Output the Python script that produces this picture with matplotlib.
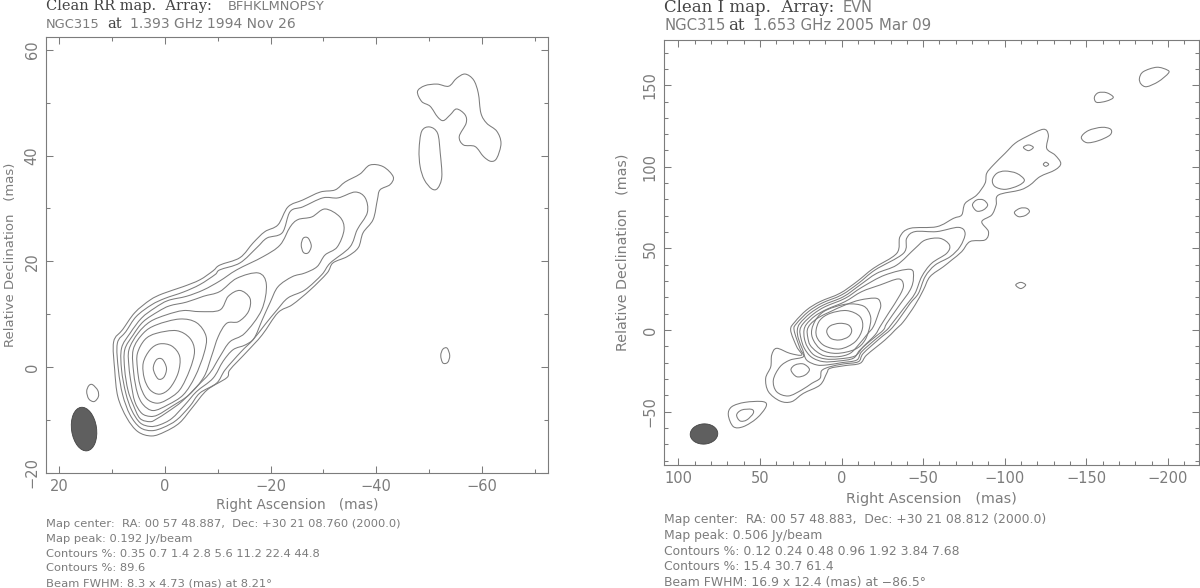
import numpy as np
import matplotlib
matplotlib.use("Agg")
import matplotlib.pyplot as plt
from matplotlib.path import Path
from matplotlib.patches import PathPatch, Ellipse
from matplotlib.ticker import MultipleLocator

# 1.393 GHz map, contours as (RA, Dec) in mas, outermost first
left_c1 = [(9.7, 4.8), (8.0, 7.1), (5.7, 10.3), (2.8, 12.7), (0.4, 13.9), (-3.4, 15.2), (-6.6, 16.5), (-9.1, 18.2),
           (-10.4, 19.3), (-14.2, 20.7), (-16.7, 23.5), (-18.9, 25.6), (-21.4, 26.9), (-23.3, 30.3), (-26.1, 31.6),
           (-29.4, 33.1), (-32.2, 33.5), (-34.1, 35.0), (-36.9, 36.5), (-38.8, 38.2), (-41.3, 37.9), (-43.2, 36.0),
           (-42.6, 34.5), (-40.7, 33.5), (-40.2, 31.6), (-39.4, 27.9), (-37.5, 25.4), (-36.6, 22.6), (-34.5, 20.9),
           (-31.8, 19.7), (-30.7, 17.8), (-27.5, 14.6), (-24.1, 11.8), (-21.4, 10.3), (-18.4, 6.1), (-15.5, 2.9),
           (-12.3, -0.5), (-11.7, -2.0), (-8.0, -4.3), (-5.3, -7.5), (-2.8, -10.5), (0.0, -12.2),
           (2.5, -13.0), (5.1, -12.2), (7.2, -9.6), (8.9, -5.6), (9.5, -0.5)]
left_c2 = [(9.0, 4.5), (7.4, 6.7), (5.4, 9.6), (2.5, 11.8), (0.0, 13.0), (-3.5, 14.2), (-6.6, 15.6), (-9.5, 17.5),
           (-10.4, 18.4), (-14.2, 19.7), (-17.4, 22.6), (-19.3, 24.4), (-22.2, 25.4), (-23.7, 29.4), (-26.1, 30.3),
           (-29.9, 32.0), (-32.8, 32.0), (-36.0, 33.1), (-37.9, 32.0), (-38.3, 29.2), (-36.4, 26.0), (-35.0, 22.7),
           (-31.3, 19.7), (-29.7, 17.5), (-26.5, 14.6), (-23.3, 13.1), (-21.2, 10.8), (-18.9, 8.0), (-16.7, 5.2),
           (-14.4, 2.9), (-11.4, -0.5), (-9.8, -3.0), (-6.6, -4.9), (-4.7, -7.4), (-2.2, -10.0), (0.3, -11.4),
           (2.5, -12.0), (4.7, -11.4), (6.6, -9.0), (8.0, -5.2), (8.8, -0.5)]
left_c3 = [(8.2, 3.6), (6.6, 6.4), (4.4, 9.3), (1.9, 11.2), (-0.6, 12.6), (-4.1, 13.4), (-7.3, 14.6), (-10.4, 16.3),
           (-13.6, 18.4), (-18.6, 20.9), (-21.8, 23.1), (-23.7, 26.5), (-25.2, 27.9), (-27.8, 28.4), (-30.3, 29.9),
           (-33.1, 28.4), (-33.9, 26.0), (-32.6, 22.7), (-30.3, 21.2), (-28.8, 19.0), (-26.5, 17.8), (-24.1, 17.1),
           (-21.4, 15.2), (-19.9, 12.2), (-18.4, 8.9), (-16.9, 5.5), (-15.2, 4.2), (-12.9, 3.3), (-11.0, 1.1),
           (-9.1, -2.1), (-6.0, -4.6), (-3.8, -7.1), (-1.3, -9.7), (1.0, -10.9), (2.8, -11.2), (4.7, -10.5),
           (6.3, -8.1), (7.4, -4.9), (8.2, -0.5)]
left_c4 = [(7.6, 3.3), (6.0, 6.1), (4.1, 8.6), (1.3, 10.5), (-0.9, 11.6), (-4.1, 12.3), (-7.3, 13.4), (-10.4, 14.3),
           (-13.6, 16.8), (-17.7, 17.8), (-19.2, 15.6), (-18.3, 10.8), (-15.1, 6.4), (-12.3, 4.8), (-10.4, 2.0),
           (-8.5, -1.1), (-5.7, -4.0), (-3.2, -6.5), (-0.6, -8.4), (1.6, -9.8), (2.8, -10.3), (4.7, -9.7),
           (6.0, -7.1), (7.0, -4.3), (7.6, -0.5)]
left_c5 = [(6.8, 3.3), (5.1, 6.4), (2.8, 8.6), (-0.3, 9.9), (-3.5, 10.7), (-6.6, 10.5), (-10.4, 10.8), (-12.0, 13.4),
           (-14.2, 14.5), (-16.1, 13.0), (-15.8, 10.5), (-13.9, 8.6), (-11.7, 8.3), (-10.1, 5.8), (-8.8, 2.0),
           (-7.4, -1.8), (-4.6, -5.2), (-1.3, -7.4), (1.3, -9.0), (2.8, -9.3), (4.4, -8.7), (5.7, -6.5),
           (6.4, -3.0), (6.8, 0.1)]
left_c6 = [(6.0, 3.3), (4.1, 6.4), (1.6, 8.0), (-2.8, 9.1), (-6.0, 8.4), (-7.8, 5.8), (-7.4, 2.6), (-5.7, -1.8),
           (-3.5, -5.2), (-0.6, -7.1), (2.2, -8.2), (4.1, -7.1), (5.2, -4.9), (5.9, -1.1)]
left_c7 = [(5.2, 2.6), (3.8, 5.2), (1.6, 6.4), (-2.2, 6.9), (-4.7, 5.5), (-5.6, 3.0), (-4.7, -0.5), (-2.8, -4.3),
           (-0.3, -6.2), (1.6, -6.8), (3.5, -5.9), (4.7, -3.4), (5.2, -0.2)]
left_c8 = [(4.1, 0.8), (2.8, 3.3), (1.0, 4.4), (-1.3, 4.0), (-2.8, 2.0), (-2.5, -1.1), (-0.9, -4.0), (1.0, -5.1),
           (2.8, -4.3), (3.9, -2.1)]
left_c9 = [(2.2, -0.3), (1.6, 1.4), (0.5, 1.5), (-0.3, -0.2), (0.2, -1.9), (1.3, -2.2)]
left_knot = [(-25.8, 23.1), (-26.2, 24.4), (-27.1, 24.4), (-27.7, 22.9), (-27.1, 21.6), (-26.2, 21.7)]
left_ne_blob = [(-47.8, 52.1), (-49.2, 53.2), (-51.5, 53.5), (-53.7, 53.1), (-55.2, 54.6), (-56.8, 55.4),
                (-58.4, 54.3), (-59.3, 51.8), (-59.8, 48.0), (-60.9, 46.1), (-62.8, 44.6), (-63.6, 42.3),
                (-62.8, 39.5), (-61.7, 38.9), (-60.3, 39.8), (-58.7, 41.7), (-56.5, 42.0), (-55.7, 43.6),
                (-57.0, 46.1), (-56.8, 47.7), (-55.2, 48.8), (-54.0, 47.7), (-52.7, 46.6), (-51.6, 47.3),
                (-50.2, 49.3), (-48.6, 50.2)]
left_oval = [(-48.1, 41.1), (-48.6, 44.6), (-50.1, 45.4), (-51.6, 44.2), (-52.1, 40.5), (-52.4, 36.0),
             (-51.6, 33.8), (-50.5, 33.7), (-49.1, 35.4), (-48.3, 37.9)]
left_small = [(-52.2, 2.2), (-52.6, 3.4), (-53.4, 3.6), (-53.9, 2.2), (-53.5, 0.9), (-52.6, 0.8)]
left_sw = [(14.8, -4.6), (14.4, -3.5), (13.7, -3.3), (12.7, -4.4), (12.6, -5.6), (13.4, -6.5), (14.4, -6.0)]
left_contours = [left_c1, left_c2, left_c3, left_c4, left_c5, left_c6, left_c7, left_c8, left_c9,
                 left_knot, left_ne_blob, left_oval, left_small, left_sw]

# 1.653 GHz map
right_c1 = [(31.2, 0.0), (28.5, 5.1), (21.4, 12.3), (13.2, 17.4), (1.0, 22.5), (-9.3, 29.6), (-19.5, 37.8),
            (-33.8, 47.0), (-35.8, 57.2), (-42.0, 62.3), (-58.3, 63.3), (-68.5, 68.4), (-73.6, 70.5), (-75.7, 77.6),
            (-82.8, 82.7), (-87.9, 89.9), (-88.9, 96.0), (-93.0, 101.1), (-100.2, 108.3), (-106.3, 114.4),
            (-113.4, 118.5), (-123.6, 123.0), (-126.7, 119.5), (-125.7, 111.3), (-130.8, 107.2), (-134.3, 102.1),
            (-130.8, 98.1), (-121.6, 94.0), (-115.5, 88.9), (-109.4, 85.8), (-96.1, 82.7), (-94.7, 76.6),
            (-92.0, 70.5), (-85.9, 66.4), (-90.0, 60.3), (-87.9, 55.2), (-78.7, 54.2), (-73.6, 48.0), (-67.5, 42.9),
            (-62.4, 38.8), (-54.2, 32.7), (-50.1, 24.5), (-45.0, 15.3), (-37.9, 5.1), (-32.8, 0.0), (-26.6, -6.1),
            (-15.4, -15.3), (-11.3, -20.4), (-2.1, -21.8), (7.1, -23.5), (9.1, -26.5), (13.2, -33.7), (23.4, -38.8),
            (30.6, -43.9), (37.7, -43.5), (44.8, -37.8), (46.5, -29.6), (43.4, -22.5), (42.8, -15.3), (39.8, -11.2),
            (31.6, -14.3), (24.4, -15.3), (27.5, -10.2)]
right_c2 = [(29.1, 0.0), (27.5, 4.1), (20.4, 11.2), (12.2, 16.4), (0.0, 21.5), (-10.3, 28.6), (-20.5, 36.8),
            (-37.9, 47.0), (-39.9, 56.2), (-45.0, 60.3), (-58.3, 60.3), (-71.6, 62.9), (-75.7, 59.2), (-72.6, 51.1),
            (-66.5, 44.9), (-57.3, 39.8), (-51.2, 32.7), (-47.1, 22.5), (-42.0, 16.3), (-34.8, 6.1), (-29.7, 0.0),
            (-23.5, -5.1), (-13.3, -14.3), (-10.3, -19.4), (-1.1, -20.8), (7.1, -22.5), (12.2, -24.9), (13.2, -29.6),
            (18.3, -32.7), (24.4, -36.7), (32.6, -40.4), (39.8, -37.8), (41.8, -30.6), (37.7, -22.5), (31.6, -18.4),
            (23.4, -16.3), (25.5, -11.2)]
right_c3 = [(27.1, 0.0), (25.5, 4.1), (19.3, 10.2), (11.2, 15.3), (-1.1, 20.4), (-11.3, 27.6), (-21.5, 34.7),
            (-33.8, 39.8), (-45.0, 50.0), (-51.2, 55.1), (-60.3, 56.2), (-66.1, 52.1), (-64.4, 47.0), (-55.2, 40.9),
            (-49.1, 32.7), (-45.0, 22.5), (-38.9, 14.3), (-31.8, 5.1), (-27.7, 0.0), (-21.5, -5.1), (-12.3, -13.3),
            (-9.3, -18.4), (0.0, -20.0), (9.1, -21.4), (15.2, -21.4), (21.4, -18.4), (23.8, -12.2), (26.5, -5.1)]
right_c4 = [(25.5, 0.0), (23.4, 4.1), (17.3, 9.8), (10.1, 14.3), (-2.1, 19.4), (-12.3, 26.1), (-26.6, 33.7),
            (-42.0, 37.2), (-44.0, 31.7), (-42.0, 24.5), (-34.8, 14.3), (-27.7, 4.1), (-25.6, 0.0), (-19.5, -5.1),
            (-11.3, -12.2), (-7.2, -17.3), (1.9, -19.0), (11.1, -19.4), (18.3, -16.7), (22.8, -11.2), (24.9, -5.1)]
right_c5 = [(23.0, 0.0), (21.4, 3.7), (16.3, 8.6), (9.1, 12.7), (-2.1, 17.4), (-12.3, 23.5), (-23.6, 27.6),
            (-34.8, 31.3), (-37.9, 27.6), (-35.8, 21.5), (-28.7, 10.2), (-23.6, 2.1), (-20.5, -3.0), (-13.3, -10.2),
            (-8.2, -15.9), (1.9, -17.7), (10.1, -17.7), (16.9, -15.3), (21.0, -10.2), (22.8, -5.1)]
right_c6 = [(21.0, 0.0), (19.0, 3.7), (14.2, 7.6), (7.0, 11.2), (-2.1, 15.3), (-11.3, 18.4), (-21.5, 19.4),
            (-24.0, 15.3), (-22.6, 10.2), (-19.5, 2.1), (-15.4, -3.0), (-10.3, -9.2), (-5.2, -14.3), (1.9, -16.3),
            (10.1, -15.9), (15.2, -13.3), (19.3, -9.2), (20.7, -4.5)]
right_c7 = [(18.3, 0.0), (15.2, 7.2), (9.1, 12.3), (-3.2, 15.9), (-13.4, 14.7), (-17.5, 9.2), (-17.5, 3.1),
            (-14.4, -6.1), (-8.3, -11.8), (3.0, -14.3), (12.2, -12.2), (17.3, -6.1)]
right_c8 = [(15.6, 0.0), (13.2, 6.1), (7.0, 10.2), (-3.2, 11.9), (-11.3, 8.2), (-12.8, 1.0), (-8.3, -7.2),
            (0.9, -11.6), (10.1, -9.8), (14.8, -5.1)]
right_c9 = [(9.1, -1.0), (7.0, 2.5), (1.3, 4.1), (-4.2, 3.1), (-6.2, -0.4), (-4.2, -4.1), (1.3, -6.1), (6.6, -5.1)]
right_south = [(31.0, -24.5), (28.5, -21.4), (23.4, -20.8), (19.7, -24.1), (22.4, -27.6), (27.5, -28.6)]
right_sw_out = [(69.4, -52.0), (67.3, -47.0), (59.2, -44.3), (48.0, -43.9), (46.3, -47.0), (52.0, -54.1),
                (60.2, -59.2), (66.3, -59.2)]
right_sw_in = [(64.3, -52.0), (61.2, -49.0), (55.1, -48.6), (54.1, -51.0), (58.1, -55.1), (62.2, -55.7)]
right_ne1 = [(-182.5, 154.2), (-184.9, 158.3), (-193.1, 161.0), (-199.6, 159.3), (-200.2, 157.3), (-194.1, 152.2),
             (-187.0, 149.1), (-183.5, 150.7)]
right_ne2 = [(-154.9, 142.6), (-157.3, 145.4), (-162.4, 145.4), (-166.5, 142.6), (-162.4, 140.3), (-156.3, 139.5)]
right_ne3 = [(-146.9, 118.1), (-151.2, 122.2), (-159.4, 124.2), (-164.9, 123.0), (-164.5, 119.5), (-157.3, 116.0),
             (-150.2, 114.8)]
right_k1 = [(-111.4, 111.9), (-114.5, 113.4), (-117.5, 111.9), (-114.5, 109.9)]
right_k2 = [(-123.6, 101.5), (-125.1, 102.8), (-126.9, 101.5), (-125.1, 100.3)]
right_k3 = [(-92.4, 91.9), (-95.1, 96.0), (-100.2, 97.4), (-107.3, 96.0), (-112.0, 91.9), (-108.3, 88.5),
            (-100.2, 86.2), (-94.0, 87.9)]
right_k4 = [(-80.2, 76.6), (-82.8, 79.7), (-86.9, 79.7), (-89.5, 76.6), (-86.9, 73.6), (-82.8, 72.9)]
right_k5 = [(-105.9, 72.1), (-109.4, 74.6), (-113.4, 74.6), (-115.1, 72.5), (-112.4, 70.1), (-108.3, 69.5)]
right_k6 = [(-106.7, 27.6), (-109.8, 29.2), (-112.8, 27.6), (-109.8, 25.4)]
right_contours = [right_c1, right_c2, right_c3, right_c4, right_c5, right_c6, right_c7, right_c8, right_c9,
                  right_south, right_sw_out, right_sw_in, right_ne1, right_ne2, right_ne3,
                  right_k1, right_k2, right_k3, right_k4, right_k5, right_k6]

left_beam = (15.3, -11.7, 4.73, 8.3, -8.21)
right_beam = (84.3, -63.7, 12.4, 16.9, 86.5)

left_info = ["Map center:  RA: 00 57 48.887,  Dec: +30 21 08.760 (2000.0)",
             "Map peak: 0.192 Jy/beam",
             "Contours %: 0.35 0.7 1.4 2.8 5.6 11.2 22.4 44.8",
             "Contours %: 89.6",
             "Beam FWHM: 8.3 x 4.73 (mas) at 8.21\u00b0"]
right_info = ["Map center:  RA: 00 57 48.883,  Dec: +30 21 08.812 (2000.0)",
              "Map peak: 0.506 Jy/beam",
              "Contours %: 0.12 0.24 0.48 0.96 1.92 3.84 7.68",
              "Contours %: 15.4 30.7 61.4",
              "Beam FWHM: 16.9 x 12.4 (mas) at \u221286.5\u00b0"]

GRAY = "#7c7c7c"
DARK = "#444444"
W, H = 1200, 588

plt.rcParams["font.family"] = ["DejaVu Sans"]
plt.rcParams["axes.unicode_minus"] = True


def closed_path(points):
    # smooth closed curve that goes through the traced points
    p = np.array(points, float)
    n = len(p)
    verts = [p[0]]
    codes = [Path.MOVETO]
    for i in range(n):
        a, b, c, d = p[i - 1], p[i], p[(i + 1) % n], p[(i + 2) % n]
        verts += [b + (c - a) / 6, c - (d - b) / 6, c]
        codes += [Path.CURVE4] * 3
    return Path(verts, codes)


def put_text(x, y, s, **kw):
    kw.setdefault("color", GRAY)
    kw.setdefault("fontsize", 8.25)
    kw.setdefault("va", "baseline")
    fig.text(x / W, 1 - y / H, s, **kw)


def draw_map(box, xlim, ylim, xstep, ystep, contours, beam):
    left, top, right, bottom = box
    ax = fig.add_axes([left / W, 1 - bottom / H, (right - left) / W, (bottom - top) / H])
    for c in contours:
        ax.add_patch(PathPatch(closed_path(c), fc="none", ec=GRAY, lw=0.75))
    x0, y0, w, h, ang = beam
    ax.add_patch(Ellipse((x0, y0), w, h, angle=ang, fc="#5f5f5f", ec="#444444", lw=0.6))
    ax.set_xlim(xlim)
    ax.set_ylim(ylim)
    ax.xaxis.set_major_locator(MultipleLocator(xstep[0]))
    ax.xaxis.set_minor_locator(MultipleLocator(xstep[1]))
    ax.yaxis.set_major_locator(MultipleLocator(ystep[0]))
    ax.yaxis.set_minor_locator(MultipleLocator(ystep[1]))
    ax.tick_params(which="major", direction="in", length=5, width=0.75, color=GRAY, top=True, right=True,
                   labelcolor=GRAY, labelsize=10.5)
    ax.tick_params(which="minor", direction="in", length=2.8, width=0.75, color=GRAY, top=True, right=True)
    ax.tick_params(axis="x", which="major", pad=4.5)
    ax.tick_params(axis="y", which="major", pad=4.5)
    for t in ax.get_yticklabels():
        t.set_rotation(90)
        t.set_va("center")
    for s in ax.spines.values():
        s.set_color(GRAY)
        s.set_linewidth(0.8)
    return ax


fig = plt.figure(figsize=(W / 100, H / 100), dpi=100)

draw_map((46, 37, 547.5, 473), (22.5, -72.4), (-20, 62.4), (20, 10), (20, 10), left_contours, left_beam)
draw_map((664, 40, 1199, 465), (108.8, -219), (-82.7, 177.7), (50, 10), (50, 10), right_contours, right_beam)

# axis titles
put_text(297, 509, "Right Ascension   (mas)", fontsize=9.8, ha="center")
put_text(11, 255, "Relative Declination   (mas)", fontsize=9.5, rotation=90, ha="center", va="center")
put_text(931, 503, "Right Ascension   (mas)", fontsize=10.4, ha="center")
put_text(622, 252.5, "Relative Declination   (mas)", fontsize=10.3, rotation=90, ha="center", va="center")

# headers, PGPLOT mixes a serif and a sans font here
put_text(46, 10, "Clean RR map.  Array:", family="DejaVu Serif", color=DARK, fontsize=10.5)
put_text(228, 10, "BFHKLMNOPSY", fontsize=9.4)
put_text(46, 28, "NGC315", fontsize=9.4)
put_text(107, 28, "at", family="DejaVu Serif", color=DARK, fontsize=10.5)
put_text(130, 28, "1.393 GHz 1994 Nov 26", fontsize=10)

put_text(664, 12, "Clean I map.  Array:", family="DejaVu Serif", color=DARK, fontsize=12)
put_text(843, 12, "EVN", fontsize=10.5)
put_text(664, 30, "NGC315", fontsize=10.7)
put_text(728, 30, "at", family="DejaVu Serif", color=DARK, fontsize=12)
put_text(753, 30, "1.653 GHz 2005 Mar 09", fontsize=10.85)

for i, line in enumerate(left_info):
    put_text(46, [527, 542, 557, 571, 586][i], line)
for i, line in enumerate(right_info):
    put_text(664, [523, 539, 555, 570, 586][i], line, fontsize=8.9)

fig.savefig("out.png", dpi=100)
